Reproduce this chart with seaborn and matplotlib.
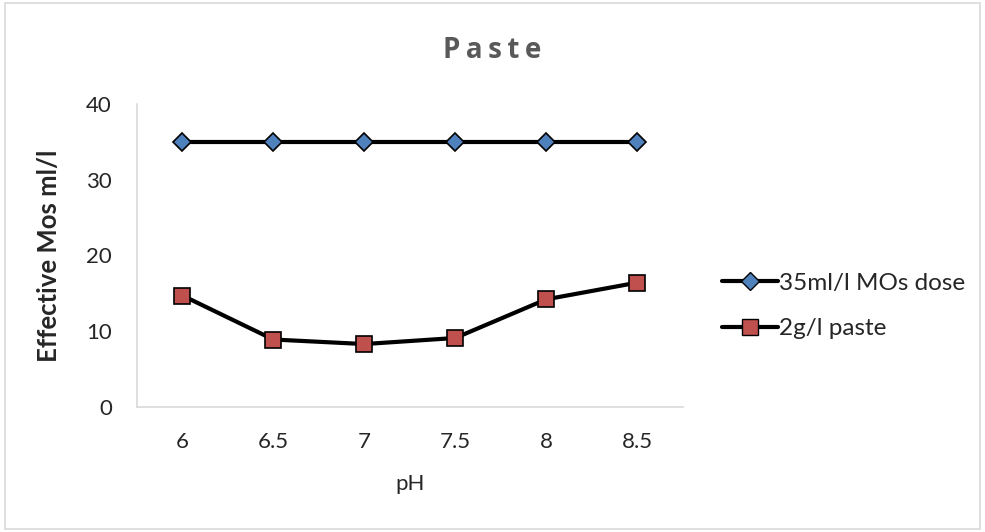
import matplotlib
matplotlib.use("Agg")
import matplotlib.pyplot as plt
import seaborn as sns
import pandas as pd
from matplotlib.patches import Rectangle
from matplotlib.lines import Line2D

# data
ph = ["6", "6.5", "7", "7.5", "8", "8.5"]
mos_dose = [35, 35, 35, 35, 35, 35]
paste = [14.7, 8.9, 8.3, 9.1, 14.2, 16.4]

sns.set_style("white")
plt.rcParams['font.family'] = ['Lato', 'DejaVu Sans']

df = pd.DataFrame({
    'pH': ph * 2,
    'value': mos_dose + paste,
    'series': ['35ml/l MOs dose'] * 6 + ['2g/l paste'] * 6,
})

fig = plt.figure(figsize=(9.85, 5.32), dpi=100)
ax = fig.add_axes([0.139, 0.235, 0.554, 0.570])

sns.lineplot(data=df, x='pH', y='value', hue='series', style='series',
             markers={'35ml/l MOs dose': 'D', '2g/l paste': 's'},
             dashes=False, sort=False,
             palette={'35ml/l MOs dose': 'black', '2g/l paste': 'black'},
             linewidth=3.0, ax=ax, legend=False)

# color the markers like the original
face = {0: '#4f81bd', 1: '#c0504d'}
sizes = {0: 9.5, 1: 11}
for i, line in enumerate(ax.get_lines()[:2]):
    line.set_markerfacecolor(face[i])
    line.set_markeredgecolor('black')
    line.set_markeredgewidth(1.2)
    line.set_markersize(sizes[i])

ax.set_xlim(-0.5, 5.5)
ax.set_ylim(0, 40)
ax.set_yticks([0, 10, 20, 30, 40])
ax.tick_params(axis='both', labelsize=16, length=0)
ax.tick_params(axis='y', pad=18)
ax.tick_params(axis='x', pad=18)
for s in ['top', 'right']:
    ax.spines[s].set_visible(False)
for s in ['left', 'bottom']:
    ax.spines[s].set_color('#d9d9d9')
    ax.spines[s].set_linewidth(1.2)

ax.set_xlabel('pH', fontsize=16, labelpad=16)
ax.set_ylabel('Effective Mos ml/l', fontsize=18.5, fontweight='bold', labelpad=18)
fig.text(0.5, 0.905, '\u2009'.join('Paste'), ha='center', va='center', fontsize=20,
         fontweight='bold', color='#595959', family=['Open Sans', 'DejaVu Sans'])

handles = [
    Line2D([], [], color='black', lw=3.0, marker='D', markersize=9.5,
           markerfacecolor=face[0], markeredgecolor='black'),
    Line2D([], [], color='black', lw=3.0, marker='s', markersize=11,
           markerfacecolor=face[1], markeredgecolor='black'),
]
fig.legend(handles, ['35ml/l MOs dose', '2g/l paste'], loc='center left',
           bbox_to_anchor=(0.733, 0.425), frameon=False, fontsize=17.5,
           handlelength=2.3, handletextpad=0.05, labelspacing=1.0,
           borderaxespad=0, borderpad=0)

fig.patches.append(Rectangle((0.005, 0.005), 0.99, 0.99, transform=fig.transFigure,
                             fill=False, edgecolor='#d9d9d9', lw=1.2))

fig.savefig('out.png', dpi=100)
